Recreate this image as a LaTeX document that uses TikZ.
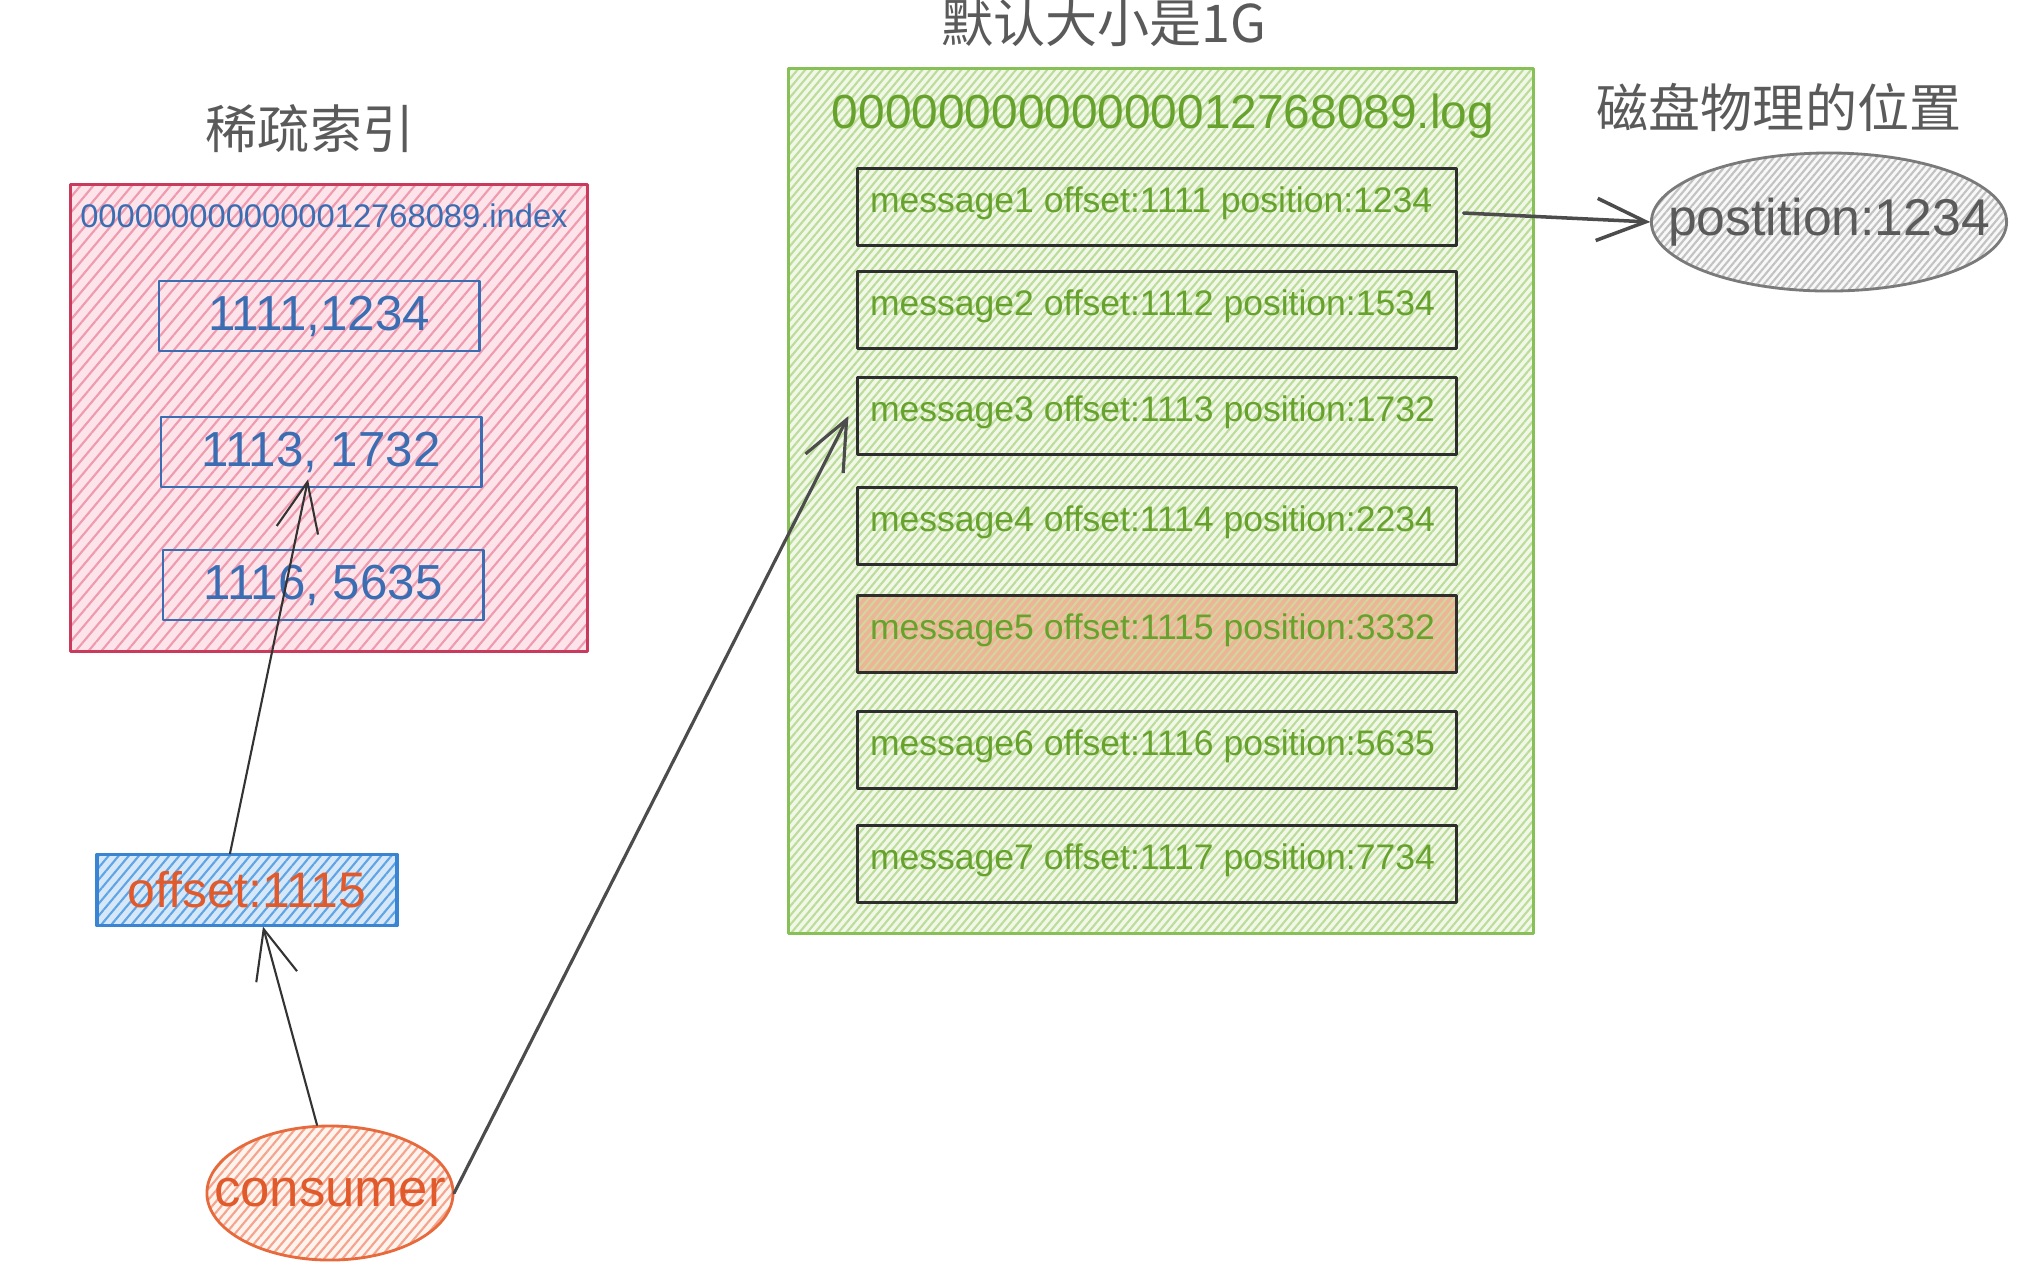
\documentclass[tikz,border=0pt]{standalone}
\usepackage{fontspec}
\setmainfont{Liberation Sans}
\newfontfamily\cjk{Noto Sans CJK SC}
\usetikzlibrary{shapes.geometric,patterns.meta,arrows.meta,calc}
\definecolor{idxred}{HTML}{C93A5C}
\definecolor{idxfill}{HTML}{FCE4EA}
\definecolor{idxhatch}{HTML}{EF9AAE}
\definecolor{idxblue}{HTML}{3B6DB3}
\definecolor{logline}{HTML}{86C057}
\definecolor{logfill}{HTML}{F1F8E8}
\definecolor{loghatch}{HTML}{BCDC9A}
\definecolor{loggreen}{HTML}{67A22D}
\definecolor{msgpeach}{HTML}{EDB596}
\definecolor{msghatch}{HTML}{D2D59E}
\definecolor{offline}{HTML}{3A84D4}
\definecolor{offfill}{HTML}{D6E8F8}
\definecolor{offhatch}{HTML}{5FA5E6}
\definecolor{orange}{HTML}{E15A2B}
\definecolor{consline}{HTML}{E66A3C}
\definecolor{consfill}{HTML}{FFF3EE}
\definecolor{conshatch}{HTML}{F4A38C}
\definecolor{posline}{HTML}{7A7A7A}
\definecolor{posfill}{HTML}{F8F8F8}
\definecolor{poshatch}{HTML}{C2C2C2}
\definecolor{titlegray}{HTML}{5A5A5A}
\begin{document}
\begin{tikzpicture}[x=0.01cm, y=-0.01cm, line cap=round, line join=round, >={Straight Barb[length=14pt,width=12pt]}]
	\tikzset{hatch/.style n args={3}{preaction={fill=#1}, pattern={Lines[angle=50,distance=#3,line width=0.6pt]}, pattern color=#2},
		title/.style={text=titlegray, font=\cjk\fontsize{14.8pt}{17pt}\selectfont},
		idxbox/.style={draw=idxblue, line width=0.8pt, minimum width=3.2cm, minimum height=0.7cm, text=idxblue, font=\fontsize{14pt}{16pt}\selectfont},
		msgbox/.style={draw=black!82, line width=0.8pt, minimum width=5.98cm, minimum height=0.77cm, inner sep=0pt},
		msgtext/.style={text=loggreen, inner sep=0pt, font=\fontsize{10.1pt}{12pt}\selectfont},
		msg5/.style={hatch={msgpeach}{msghatch}{1.7pt}},
		link/.style={->, draw=black!80, line width=0.6pt}}
	\useasboundingbox (0,0) rectangle (2018,1262);
	% titles
	\node[title] (sparse) at (310,129) {稀疏索引};
	\node[title] (segsize) at (1104,23) {默认大小是1G};
	\node[title] (disk) at (1779,107) {磁盘物理的位置};
	% index file
	\node[draw=idxred, line width=0.8pt, hatch={idxfill}{idxhatch}{2.8pt}, minimum width=5.16cm, minimum height=4.66cm] (idxfile) at (329,418) {};
	\node[text=idxblue, font=\fontsize{9.3pt}{11pt}\selectfont] (idxname) at (324,216) {0000000000000012768089.index};
	\node[idxbox] (idx1) at (319,316) {1111,1234};
	\node[idxbox] (idx2) at (321,452) {1113, 1732};
	\node[idxbox] (idx3) at (323,585) {1116, 5635};
	% log file
	\node[draw=logline, line width=0.8pt, hatch={logfill}{loghatch}{1.7pt}, minimum width=7.45cm, minimum height=8.65cm] (logfile) at (1161,501) {};
	\node[text=loggreen, font=\fontsize{13.6pt}{16pt}\selectfont] (logname) at (1163,116) {0000000000000012768089.log};
	\foreach \i/\y/\off/\pos in {1/207/1111/1234, 2/310/1112/1534, 3/416/1113/1732, 4/526/1114/2234, 5/634/1115/3332, 6/750/1116/5635, 7/864/1117/7734}{
		\node[msgbox, msg\i/.try] (m\i) at (1157,\y) {};
		\node[msgtext, anchor=west] (mt\i) at ($(m\i.north west)+(13,36)$) {message\i\ offset:\off\ position:\pos};
	}
	% disk position
	\node[ellipse, draw=posline, line width=0.8pt, hatch={posfill}{poshatch}{1.5pt}, minimum width=3.55cm, minimum height=1.38cm] (pos) at (1829,222) {};
	\node[text=titlegray, font=\fontsize{14.7pt}{17pt}\selectfont] (postext) at (pos) {postition:1234};
	% consumer side
	\node[draw=offline, line width=1pt, hatch={offfill}{offhatch}{2.2pt}, minimum width=3cm, minimum height=0.71cm, text=orange, font=\fontsize{14.2pt}{16pt}\selectfont] (offset) at (247,890) {offset:1115};
	\node[ellipse, draw=consline, line width=0.8pt, hatch={consfill}{conshatch}{2pt}, minimum width=2.46cm, minimum height=1.34cm] (cons) at (330,1193) {};
	\node[text=orange, font=\fontsize{15pt}{17pt}\selectfont] (constext) at (cons) {consumer};
	\draw[link] ($(cons.north)+(-13,0)$) -- ($(offset.south)+(16,0)$);
	\draw[link] ($(offset.north)+(-17,0)$) -- ($(idx2.south)+(-13,-9)$);
	\draw[link, draw=black!70, line width=0.9pt] (cons.east) -- ($(m3.west)+(-8,0)$);
	\draw[link, draw=black!70, line width=1pt] ($(m1.east)+(6,6)$) -- (pos.west);
\end{tikzpicture}
\end{document}
